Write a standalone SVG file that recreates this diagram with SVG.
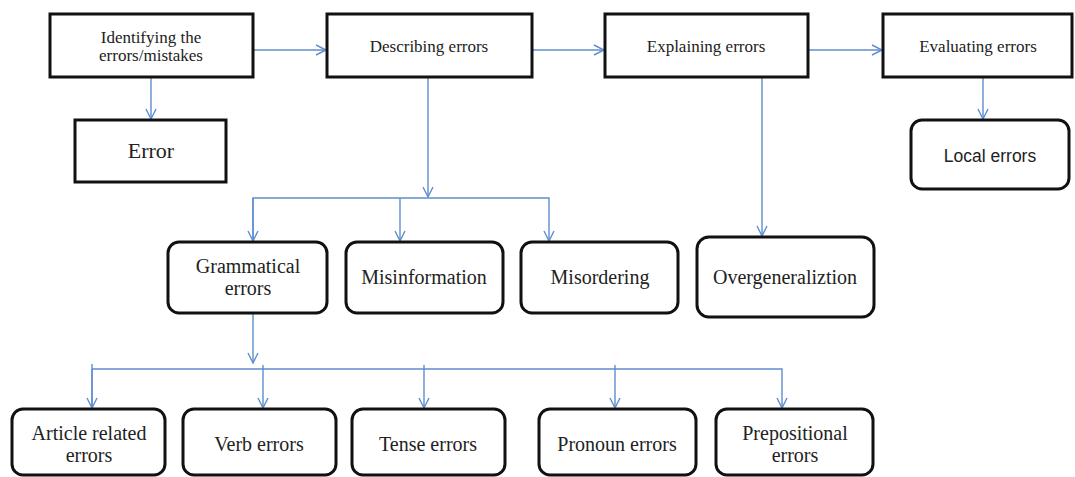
<svg xmlns="http://www.w3.org/2000/svg" width="1075" height="477" viewBox="0 0 1075 477">
<style>
.box{fill:#fff;stroke:#111;stroke-width:3}
.t{font-family:"Liberation Serif","Times New Roman",serif;fill:#222;text-anchor:middle}
.s{font-family:"Liberation Sans",Arial,sans-serif;fill:#222;text-anchor:middle}
.top{font-size:17px}
.mid{font-size:20px}
.c{fill:none;stroke:#5f8dcf;stroke-width:1.4}
</style>
<defs>
<marker id="ah" markerWidth="14" markerHeight="14" refX="11" refY="6" orient="auto" markerUnits="userSpaceOnUse" viewBox="0 0 14 12">
<path d="M1,1 L11,6 L1,11" fill="none" stroke="#5f8dcf" stroke-width="1.4"/>
</marker>
</defs>
<rect width="1075" height="477" fill="#fff"/>
<g id="connectors">
<line class="c" x1="253" y1="50" x2="326" y2="50" marker-end="url(#ah)"/>
<line class="c" x1="532" y1="50" x2="604" y2="50" marker-end="url(#ah)"/>
<line class="c" x1="808" y1="50" x2="882" y2="50" marker-end="url(#ah)"/>
<line class="c" x1="151" y1="77" x2="151" y2="119" marker-end="url(#ah)"/>
<line class="c" x1="983" y1="77" x2="983" y2="119" marker-end="url(#ah)"/>
<line class="c" x1="428" y1="77" x2="428" y2="197" marker-end="url(#ah)"/>
<polyline class="c" points="253,241 253,198 549,198 549,241" marker-end="url(#ah)"/>
<line class="c" x1="253" y1="198" x2="253" y2="241" marker-end="url(#ah)"/>
<line class="c" x1="400" y1="198" x2="400" y2="241" marker-end="url(#ah)"/>
<line class="c" x1="762" y1="77" x2="762" y2="236" marker-end="url(#ah)"/>
<line class="c" x1="253" y1="314" x2="253" y2="363" marker-end="url(#ah)"/>
<polyline class="c" points="92,408 92,364 92,369 782,369 782,408" marker-end="url(#ah)"/>
<line class="c" x1="92" y1="369" x2="92" y2="408" marker-end="url(#ah)"/>
<line class="c" x1="263" y1="365" x2="263" y2="408" marker-end="url(#ah)"/>
<line class="c" x1="424" y1="365" x2="424" y2="408" marker-end="url(#ah)"/>
<line class="c" x1="615" y1="365" x2="615" y2="408" marker-end="url(#ah)"/>
</g>
<g id="identifying"><rect class="box" x="50" y="14" width="203" height="63"/>
<text class="t top" x="151" y="43">Identifying the</text>
<text class="t top" x="151" y="61">errors/mistakes</text></g>
<g id="error"><rect class="box" x="75" y="120" width="151" height="62"/>
<text class="t" font-size="22" x="151" y="158">Error</text></g>
<g id="describing"><rect class="box" x="327" y="14" width="205" height="63"/>
<text class="t top" x="429" y="52">Describing errors</text></g>
<g id="explaining"><rect class="box" x="605" y="14" width="203" height="63"/>
<text class="t top" x="706" y="52">Explaining errors</text></g>
<g id="evaluating"><rect class="box" x="883" y="14" width="189" height="63"/>
<text class="t top" x="978" y="52">Evaluating errors</text></g>
<g id="local"><rect class="box" x="911" y="120" width="158" height="69" rx="11"/>
<text class="s" font-size="17.5" x="990" y="162">Local errors</text></g>
<g id="grammatical"><rect class="box" x="168" y="242" width="159" height="71" rx="11"/>
<text class="t mid" x="248" y="273">Grammatical</text>
<text class="t mid" x="248" y="295">errors</text></g>
<g id="misinformation"><rect class="box" x="346" y="242" width="157" height="71" rx="11"/>
<text class="t mid" x="424" y="284">Misinformation</text></g>
<g id="misordering"><rect class="box" x="521" y="242" width="157" height="71" rx="11"/>
<text class="t mid" x="600" y="284">Misordering</text></g>
<g id="overgeneralization"><rect class="box" x="697" y="237" width="177" height="80" rx="12"/>
<text class="t mid" x="785" y="284">Overgeneraliztion</text></g>
<g id="article"><rect class="box" x="12" y="409" width="153" height="66" rx="11"/>
<text class="t mid" x="89" y="440">Article related</text>
<text class="t mid" x="89" y="462">errors</text></g>
<g id="verb"><rect class="box" x="183" y="409" width="153" height="66" rx="11"/>
<text class="t mid" x="259" y="451">Verb errors</text></g>
<g id="tense"><rect class="box" x="352" y="409" width="153" height="66" rx="11"/>
<text class="t mid" x="428" y="451">Tense errors</text></g>
<g id="pronoun"><rect class="box" x="539" y="409" width="157" height="66" rx="11"/>
<text class="t mid" x="617" y="451">Pronoun errors</text></g>
<g id="prepositional"><rect class="box" x="716" y="409" width="157" height="66" rx="11"/>
<text class="t mid" x="795" y="440">Prepositional</text>
<text class="t mid" x="795" y="462">errors</text></g>
</svg>
